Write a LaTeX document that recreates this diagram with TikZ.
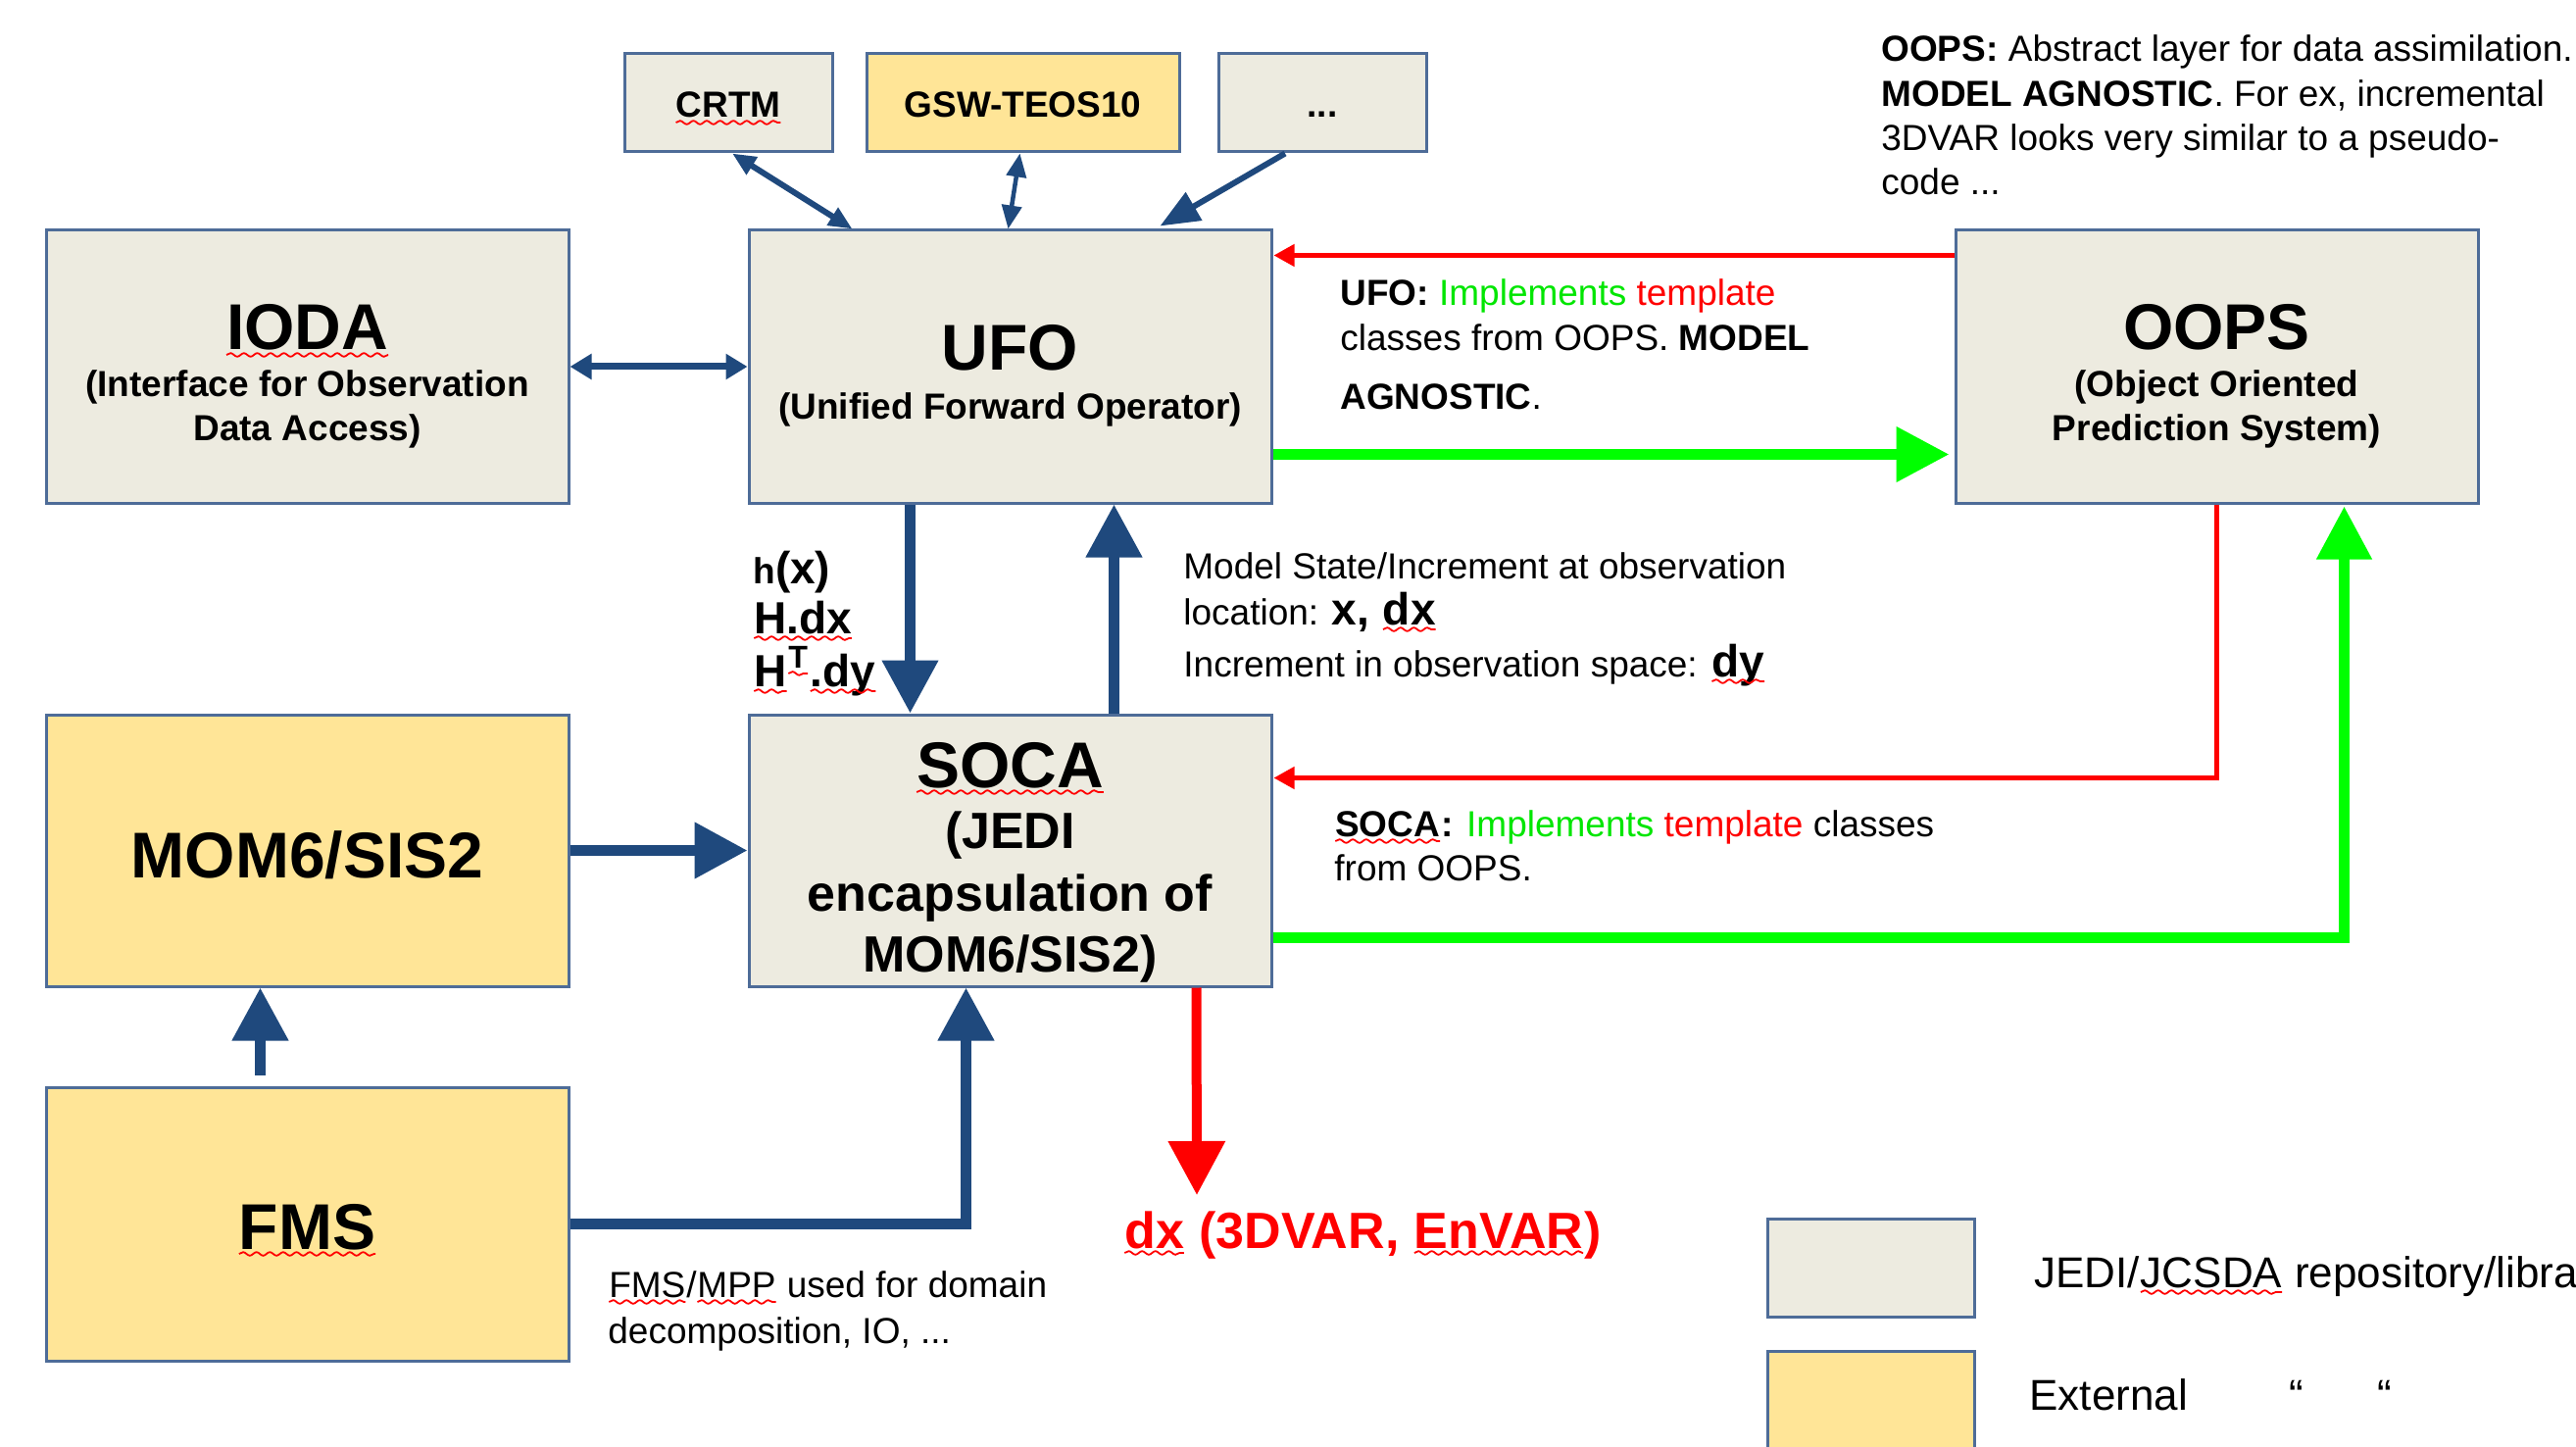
\documentclass[tikz,border=0pt]{standalone}
\usepackage{fontspec}
\setmainfont{Liberation Sans}
\usetikzlibrary{arrows.meta,calc,decorations.pathmorphing}
\definecolor{boxfill}{HTML}{EDEBE0}
\definecolor{extfill}{HTML}{FFE597}
\definecolor{boxline}{HTML}{4E6C98}
\definecolor{navy}{HTML}{1F497D}
\definecolor{brgreen}{HTML}{00FF00}
\definecolor{txgreen}{HTML}{00E600}
\definecolor{brred}{HTML}{FF0000}
\newcommand\sqw[1]{\tikz[baseline=(sqa.base)]{\node[inner sep=0pt,outer sep=0pt,anchor=base west] (sqa) at (0,0) {#1};\draw[brred,line width=0.9pt,decorate,decoration={snake,amplitude=0.9pt,segment length=6.8pt}] ([yshift=-2.5pt]sqa.base west) -- ([yshift=-2.5pt]sqa.base east);}}
\newcommand\fsz[1]{\fontsize{#1}{#1}\selectfont}
\tikzset{
  jbox/.style={draw=boxline, line width=1.5pt, fill=boxfill, inner sep=0pt},
  ebox/.style={jbox, fill=extfill},
  lbl/.style={inner sep=0pt, anchor=base west, font=\fsz{18.5}},
  clbl/.style={inner sep=0pt, anchor=base},
  ttl/.style={clbl, font=\fsz{33}\bfseries},
  sub/.style={clbl, font=\fsz{18.5}\bfseries},
  bignavy/.style={draw=navy, line width=5.5pt, -{Triangle[width=27.5pt,length=27pt]}},
  midnavy/.style={draw=navy, line width=3pt},
  thinred/.style={draw=brred, line width=2.25pt, -{Triangle[width=11pt,length=10.5pt]}},
  biggreen/.style={draw=brgreen, line width=5.5pt, -{Triangle[width=27pt,length=27pt]}},
  bigred/.style={draw=brred, line width=5pt, -{Triangle[width=28pt,length=27.5pt]}}
}
\begin{document}
\begin{tikzpicture}[x=0.5pt,y=-0.5pt]
\useasboundingbox (0,0) rectangle (2628,1476);
\clip (0,0) rectangle (2628,1476);
\fill[white] (0,0) rectangle (2628,1476);

% boxes
\node[jbox, minimum width=266.5pt, minimum height=139pt] (ioda) at (313.5,374) {};
\node[jbox, minimum width=266.5pt, minimum height=139pt] (ufo) at (1030.5,374) {};
\node[jbox, minimum width=266.5pt, minimum height=139pt] (oops) at (2261.5,374) {};
\node[ebox, minimum width=266.5pt, minimum height=138.5pt] (mom) at (313.5,867.5) {};
\node[jbox, minimum width=266.5pt, minimum height=138.5pt] (soca) at (1030.5,867.5) {};
\node[ebox, minimum width=266.5pt, minimum height=139.5pt] (fms) at (313.5,1248.5) {};
\node[jbox, minimum width=106pt, minimum height=50pt] (crtm) at (743,105) {};
\node[ebox, minimum width=159.5pt, minimum height=50pt] (gsw) at (1043.5,105) {};
\node[jbox, minimum width=106pt, minimum height=50pt] (etc) at (1349,105) {};
\node[jbox, minimum width=105.5pt, minimum height=50pt] (leg1) at (1908.5,1293) {};
\node[ebox, minimum width=105.5pt, minimum height=50pt] (leg2) at (1908.5,1428) {};

% box texts
\node[ttl] (iodat) at (313.5,357) {\sqw{IODA}};
\node[sub] (iodas1) at (313.5,405) {(Interface for Observation};
\node[sub] (iodas2) at (313.5,450) {Data Access)};
\node[ttl] (ufot) at (1030.5,378) {UFO};
\node[sub] (ufos1) at (1030.5,428) {(Unified Forward Operator)};
\node[ttl] (oopst) at (2261.5,357) {OOPS};
\node[sub] (oopss1) at (2261.5,405) {(Object Oriented};
\node[sub] (oopss2) at (2261.5,450) {Prediction System)};
\node[ttl] (momt) at (313.5,895) {MOM6/SIS2};
\node[ttl] (socat) at (1030.5,803) {\sqw{SOCA}};
\node[clbl, font=\fsz{26}\bfseries] (socas1) at (1030.5,865) {(JEDI};
\node[clbl, font=\fsz{26}\bfseries] (socas2) at (1030.5,929) {encapsulation of};
\node[clbl, font=\fsz{26}\bfseries] (socas3) at (1030.5,991) {MOM6/SIS2)};
\node[ttl] (fmst) at (313.5,1274) {\sqw{FMS}};
\node[sub] (crtmt) at (743,120) {\sqw{CRTM}};
\node[sub] (gswt) at (1043.5,120) {GSW-TEOS10};
\node[sub] (etct) at (1349,120) {...};

% notes
\node[lbl] (n1) at (1919,63) {\textbf{OOPS:} Abstract layer for data assimilation.};
\node[lbl] (n2) at (1919,109) {\textbf{MODEL AGNOSTIC}. For ex, incremental};
\node[lbl] (n3) at (1919,154) {3DVAR looks very similar to a pseudo-};
\node[lbl] (n4) at (1919,199) {code ...};

\node[lbl] (u1) at (1367,312) {\textbf{UFO:} \textcolor{txgreen}{Implements} \textcolor{brred}{template}};
\node[lbl] (u2) at (1367,358) {classes from OOPS. \textbf{MODEL}};
\node[lbl] (u3) at (1367,417) {\textbf{AGNOSTIC}.};

\node[lbl] (m1) at (1207,590) {Model State/Increment at observation};
\node[lbl] (m2) at (1207,637) {location: {\fsz{23}\bfseries x, \sqw{dx}}};
\node[lbl] (m3) at (1207,690) {Increment in observation space: {\fsz{23}\bfseries \sqw{dy}}};

\node[lbl, font=\bfseries] (h1) at (768,595) {{\fsz{18.5}h}{\fsz{23}(x)}};
\node[lbl, font=\fsz{23}\bfseries] (h2) at (768,646) {\sqw{H.dx}};
\node[lbl, font=\fsz{23}\bfseries] (h3) at (768,700) {\sqw{H}\textsuperscript{\sqw{T}}\sqw{.dy}};

\node[lbl] (s1) at (1361,853) {\textbf{\sqw{SOCA}:} \textcolor{txgreen}{Implements} \textcolor{brred}{template} classes};
\node[lbl] (s2) at (1361,898) {from OOPS.};

\node[lbl] (f1) at (620,1323) {\sqw{FMS}/\sqw{MPP} used for domain};
\node[lbl] (f2) at (620,1370) {decomposition, IO, ...};

\node[lbl, font=\fsz{26}\bfseries, text=brred] (dx) at (1146,1273) {\sqw{dx} (3DVAR, \sqw{EnVAR})};

\node[lbl, font=\fsz{22}] (lg1) at (2075,1313) {JEDI/\sqw{JCSDA} repository/library};
\node[lbl, font=\fsz{22}] (lg2) at (2070,1438) {External};
\node[lbl, font=\fsz{22}] (q1) at (2335,1438) {“};
\node[lbl, font=\fsz{22}] (q2) at (2425,1438) {“};

% connectors
\draw[midnavy, {Triangle[width=10pt,length=12pt]}-{Triangle[width=10pt,length=12pt]}]
  ($(crtm.south)+(4,0)$) -- ($(ufo.north west)+(107,0)$);
\draw[draw=navy, line width=2.25pt, {Triangle[width=10pt,length=12pt]}-{Triangle[width=10pt,length=12pt]}]
  ($(gsw.south)+(-3,0)$) -- ($(ufo.north west)+(266,0)$);
\draw[midnavy, -{Triangle[width=16pt,length=20pt]}]
  ($(etc.south)+(-38,0)$) -- ($(ufo.north west)+(421,-3)$);
\draw[draw=navy, line width=3.5pt, {Triangle[width=12.5pt,length=11pt]}-{Triangle[width=12.5pt,length=11pt]}]
  (ioda.east) -- (ufo.west);
\draw[bignavy] ($(ufo.south west)+(166,0)$) -- ($(soca.north west)+(166,0)$);
\draw[bignavy] ($(soca.north west)+(374,0)$) -- ($(ufo.south west)+(374,0)$);
\draw[bignavy] (mom.east) -- (soca.west);
\draw[bignavy] ($(fms.north west)+(220,-11)$) -- ($(mom.south west)+(220,0)$);
\draw[bignavy] (fms.east) -| ($(soca.south west)+(223,0)$);
\coordinate (dxtip) at (1221,1219);
\draw[bigred] ($(soca.south west)+(458,0)$) -- (dxtip);
\draw[thinred] ($(oops.north west)+(0,27)$) -- ($(ufo.north east)+(1,27)$);
\draw[biggreen] ($(ufo.north east)+(0,230)$) -- ($(oops.north west)+(-5,230)$);
\draw[thinred] ($(oops.south west)+(268,0)$) |- ($(soca.north east)+(1,66)$);
\draw[biggreen] ($(soca.south east)+(0,-51)$) -| ($(oops.south west)+(398,2)$);
\end{tikzpicture}
\end{document}
